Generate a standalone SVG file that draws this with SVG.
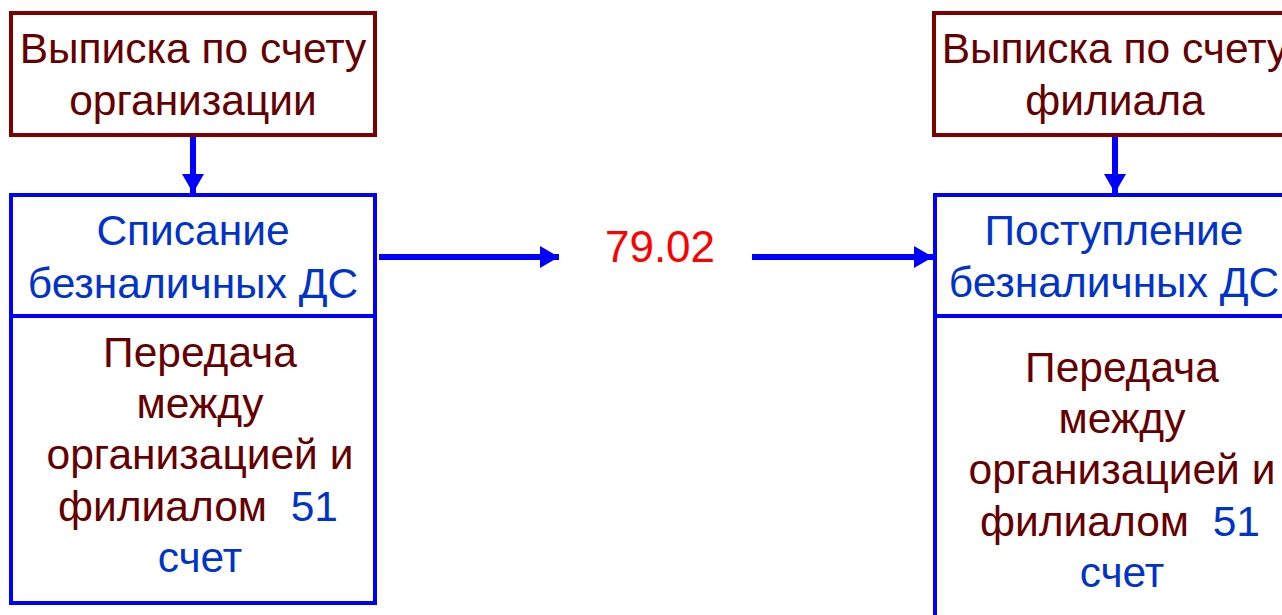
<svg xmlns="http://www.w3.org/2000/svg" width="1282" height="615" viewBox="0 0 1282 615">
<style>
text{font-family:"Liberation Sans",Arial,sans-serif;font-size:42.5px;text-anchor:middle;white-space:pre}
.red{fill:none;stroke:#7f0000;stroke-width:4}
.blue{fill:none;stroke:#0000ff;stroke-width:4}
.tr{fill:#660000}
.tb{fill:#0033cc}
.num{fill:#ff0000;font-size:44px}
.con{stroke:#0000ff;stroke-width:6;fill:none}
</style>
<defs>
<marker id="ah" markerUnits="userSpaceOnUse" markerWidth="20" markerHeight="22" refX="19" refY="11" orient="auto">
<path d="M0,0 L19,11 L0,22 Z" fill="#0000ff"/>
</marker>
</defs>
<rect width="1282" height="615" fill="#fff"/>
<g id="org-statement">
<rect class="red" x="11" y="13" width="364" height="122"/>
<text class="tr" x="193" y="63">Выписка по счету</text>
<text class="tr" x="193" y="115">организации</text>
</g>
<g id="branch-statement">
<rect class="red" x="934" y="13" width="364" height="122"/>
<text class="tr" x="1115" y="63">Выписка по счету</text>
<text class="tr" x="1115" y="115">филиала</text>
</g>
<g id="writeoff">
<rect class="blue" x="11" y="195" width="364" height="408"/>
<line class="blue" x1="11" y1="316" x2="375" y2="316"/>
<text class="tb" x="193" y="245">Списание</text>
<text class="tb" x="193" y="298">безналичных ДС</text>
<text class="tr" x="200" y="367">Передача</text>
<text class="tr" x="200" y="418">между</text>
<text class="tr" x="200" y="469">организацией и</text>
<text class="tr" x="198" y="521" xml:space="preserve">филиалом  <tspan class="tb">51</tspan></text>
<text class="tb" x="200" y="572">счет</text>
</g>
<g id="receipt">
<rect class="blue" x="935" y="195" width="364" height="440"/>
<line class="blue" x1="935" y1="316" x2="1299" y2="316"/>
<text class="tb" x="1114" y="245">Поступление</text>
<text class="tb" x="1114" y="297">безналичных ДС</text>
<text class="tr" x="1122" y="382">Передача</text>
<text class="tr" x="1122" y="433">между</text>
<text class="tr" x="1122" y="484">организацией и</text>
<text class="tr" x="1120" y="536" xml:space="preserve">филиалом  <tspan class="tb">51</tspan></text>
<text class="tb" x="1122" y="587">счет</text>
</g>
<g id="label-7902">
<text class="num" x="660" y="262">79.02</text>
</g>
<g id="connectors">
<line class="con" x1="193" y1="137" x2="193" y2="193" marker-end="url(#ah)"/>
<line class="con" x1="1115" y1="137" x2="1115" y2="193" marker-end="url(#ah)"/>
<line class="con" x1="379" y1="257" x2="559" y2="257" marker-end="url(#ah)"/>
<line class="con" x1="752" y1="257" x2="933" y2="257" marker-end="url(#ah)"/>
</g>
</svg>
